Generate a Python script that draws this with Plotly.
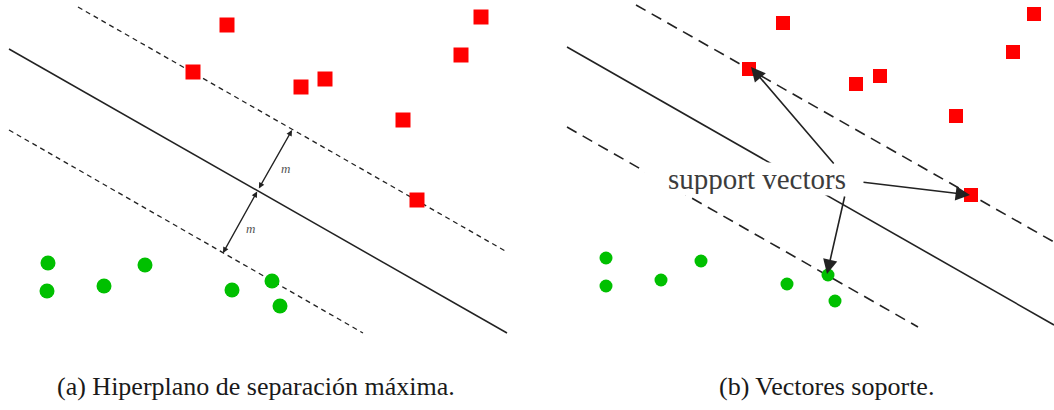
import plotly.graph_objects as go
from plotly.subplots import make_subplots

# ---- panel (a): maximum-margin hyperplane ----
a_red_x = [4.54, 3.86, 6.02, 6.50, 8.06, 9.22, 9.62, 8.34]
a_red_y = [6.30, 5.36, 5.06, 5.22, 4.40, 5.70, 6.46, 2.80]
a_green_x = [0.96, 0.94, 2.08, 2.90, 4.64, 5.44, 5.60]
a_green_y = [1.54, 0.98, 1.08, 1.50, 1.00, 1.18, 0.68]
a_hyper_x = [0.18, 10.14]
a_hyper_y = [5.82, 0.14]
a_upper_x = [1.56, 10.14]
a_upper_y = [6.66, 1.76]
a_lower_x = [0.18, 7.26]
a_lower_y = [4.20, 0.14]
# margin arrows: centre on hyperplane, ends on the two margins
a_mid = (5.16, 3.00)
a_top = (5.84, 4.20)
a_bot = (4.46, 1.74)
a_m_labels_x = [5.70, 5.00]
a_m_labels_y = [3.44, 2.24]

# ---- panel (b): support vectors ----
b_red_x = [5.06, 4.38, 6.52, 7.00, 8.52, 9.66, 10.08, 8.82]
b_red_y = [6.34, 5.42, 5.12, 5.28, 4.48, 5.76, 6.52, 2.90]
b_green_x = [1.52, 1.52, 2.62, 3.42, 5.14, 5.96, 6.10]
b_green_y = [1.64, 1.08, 1.20, 1.58, 1.12, 1.30, 0.78]
b_hyper_x = [0.74, 10.48]
b_hyper_y = [5.86, 0.30]
b_upper_x = [2.12, 10.48]
b_upper_y = [6.70, 1.96]
b_lower_x = [0.74, 7.76]
b_lower_y = [4.26, 0.26]
b_label_pos = (4.54, 3.22)
b_arrow_tails = [(6.10, 3.50), (6.64, 3.16), (6.30, 2.90)]
b_arrow_heads = [(4.42, 5.46), (8.80, 2.90), (5.94, 1.32)]

captions = ["(a) Hiperplano de separación máxima.", "(b) Vectores soporte."]

fig = make_subplots(rows=1, cols=2)

RED = "#ff0000"
GREEN = "#00c000"
INK = "#222222"
SERIF = "Liberation Serif"

# panel (a) traces
fig.add_trace(go.Scatter(x=a_hyper_x, y=a_hyper_y, mode="lines",
                         line=dict(color=INK, width=1.5)), row=1, col=1)
for lx, ly in [(a_upper_x, a_upper_y), (a_lower_x, a_lower_y)]:
    fig.add_trace(go.Scatter(x=lx, y=ly, mode="lines",
                             line=dict(color=INK, width=1.3, dash="5px,4px")), row=1, col=1)
fig.add_trace(go.Scatter(x=a_red_x, y=a_red_y, mode="markers",
                         marker=dict(symbol="square", size=15, color=RED)), row=1, col=1)
fig.add_trace(go.Scatter(x=a_green_x, y=a_green_y, mode="markers",
                         marker=dict(symbol="circle", size=15, color=GREEN)), row=1, col=1)

# panel (b) traces
fig.add_trace(go.Scatter(x=b_hyper_x, y=b_hyper_y, mode="lines",
                         line=dict(color=INK, width=1.6)), row=1, col=2)
for lx, ly in [(b_upper_x, b_upper_y), (b_lower_x, b_lower_y)]:
    fig.add_trace(go.Scatter(x=lx, y=ly, mode="lines",
                             line=dict(color=INK, width=1.6, dash="11px,7px")), row=1, col=2)
fig.add_trace(go.Scatter(x=b_red_x, y=b_red_y, mode="markers",
                         marker=dict(symbol="square", size=14, color=RED)), row=1, col=2)
fig.add_trace(go.Scatter(x=b_green_x, y=b_green_y, mode="markers",
                         marker=dict(symbol="circle", size=13, color=GREEN)), row=1, col=2)

W, H = 1054, 410
split = 530 / W
fig.update_xaxes(range=[0, 10.6], domain=[0, split], visible=False, row=1, col=1)
fig.update_xaxes(range=[0, 10.48], domain=[split, 1], visible=False, row=1, col=2)
fig.update_yaxes(range=[-1.4, 6.8], domain=[0, 1], visible=False)

# double-headed margin arrows in panel (a)
for end in (a_top, a_bot):
    fig.add_annotation(x=end[0], y=end[1], ax=a_mid[0], ay=a_mid[1],
                       xref="x", yref="y", axref="x", ayref="y",
                       text="", showarrow=True, arrowside="end+start",
                       arrowhead=2, arrowsize=0.9, arrowwidth=1.3,
                       arrowcolor=INK, standoff=0, startstandoff=0)
for mx, my in zip(a_m_labels_x, a_m_labels_y):
    fig.add_annotation(x=mx, y=my, xref="x", yref="y", text="<i>m</i>",
                       showarrow=False,
                       font=dict(family=SERIF, size=13, color="#555555"))

# panel (b): label and arrows to the support vectors
fig.add_annotation(x=b_label_pos[0], y=b_label_pos[1], xref="x2", yref="y2",
                   text="support vectors", showarrow=False, bgcolor="white",
                   width=222, height=30,
                   font=dict(family=SERIF, size=29, color="#3c3c3c"))
for (tx, ty), (hx, hy) in zip(b_arrow_tails, b_arrow_heads):
    fig.add_annotation(x=hx, y=hy, ax=tx, ay=ty,
                       xref="x2", yref="y2", axref="x2", ayref="y2",
                       text="", showarrow=True, arrowhead=2, arrowsize=1.8,
                       arrowwidth=1.6, arrowcolor=INK, standoff=0)

# captions
for cx, cap in zip([256 / W, 826 / W], captions):
    fig.add_annotation(x=cx, y=1 - 386 / H, xref="paper", yref="paper",
                       xanchor="center", yanchor="middle",
                       text=cap, showarrow=False,
                       font=dict(family=SERIF, size=26, color="#1a1a1a"))

fig.update_layout(width=W, height=H, margin=dict(l=0, r=0, t=0, b=0),
                  showlegend=False, plot_bgcolor="white", paper_bgcolor="white")

fig.write_html("out.html")
